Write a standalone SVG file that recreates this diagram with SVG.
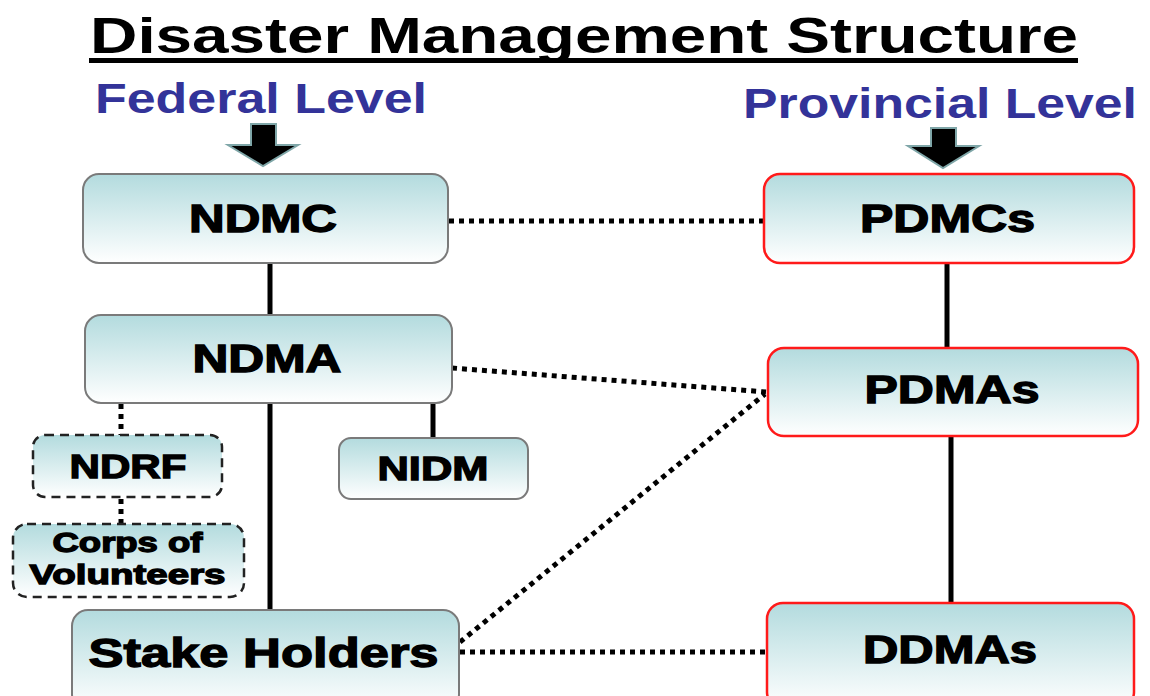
<svg xmlns="http://www.w3.org/2000/svg" width="1150" height="696" viewBox="0 0 1150 696">
<defs>
<linearGradient id="g" x1="0" y1="0" x2="0" y2="1">
<stop offset="0" stop-color="#b3dbde"/>
<stop offset="1" stop-color="#ffffff"/>
</linearGradient>
<style>
.box{fill:url(#g);stroke:#7a7a7a;stroke-width:2}
.red{fill:url(#g);stroke:#ff1a1a;stroke-width:2.5}
.dash{fill:url(#g);stroke:#222;stroke-width:2.5;stroke-dasharray:9 6}
.lbl{font-family:"Liberation Sans",Arial,sans-serif;font-weight:bold;fill:#000;stroke:#000;stroke-width:1.3;text-anchor:middle}
.lvl{font-family:"Liberation Sans",Arial,sans-serif;font-weight:bold;fill:#333399;font-size:43px}
.solid{stroke:#000;stroke-width:5;fill:none}
.dot{stroke:#000;stroke-width:5;stroke-dasharray:5 5;fill:none}
.arrow{fill:#000;stroke:#7fa6a8;stroke-width:2}
</style>
</defs>
<rect width="1150" height="696" fill="#fff"/>
<text x="90" y="53" font-family="'Liberation Sans',Arial,sans-serif" font-weight="bold" font-size="50" textLength="988" lengthAdjust="spacingAndGlyphs">Disaster Management Structure</text>
<rect x="89" y="58" width="989" height="5" fill="#000"/>
<text class="lvl" x="95" y="113" textLength="332" lengthAdjust="spacingAndGlyphs">Federal Level</text>
<text class="lvl" x="743" y="118" textLength="394" lengthAdjust="spacingAndGlyphs">Provincial Level</text>
<polygon class="arrow" points="251,124 276,124 276,145 298,145 263,166 228,145 251,145"/>
<polygon class="arrow" points="931,128 956,128 956,146 979,146 943,168 908,146 931,146"/>
<g id="connectors">
<line class="solid" x1="270" y1="263" x2="270" y2="315"/>
<line class="solid" x1="270" y1="403" x2="270" y2="610"/>
<line class="solid" x1="433" y1="403" x2="433" y2="438"/>
<line class="solid" x1="947" y1="263" x2="947" y2="348"/>
<line class="solid" x1="951" y1="436" x2="951" y2="603"/>
<line class="dot" x1="121" y1="404" x2="121" y2="435"/>
<line class="dot" x1="121" y1="499" x2="121" y2="524"/>
<line class="dot" x1="449" y1="221" x2="763" y2="221"/>
<line class="dot" x1="452" y1="368" x2="766" y2="392"/>
<line class="dot" x1="460" y1="642" x2="765" y2="394"/>
<line class="dot" x1="460" y1="652" x2="766" y2="652"/>
</g>
<g id="ndmc">
<rect class="box" x="83" y="174" width="365" height="89" rx="16"/>
<text class="lbl" x="263" y="232" font-size="38" textLength="148" lengthAdjust="spacingAndGlyphs">NDMC</text>
</g>
<g id="ndma">
<rect class="box" x="85" y="315" width="367" height="88" rx="16"/>
<text class="lbl" x="267" y="372" font-size="38" textLength="149" lengthAdjust="spacingAndGlyphs">NDMA</text>
</g>
<g id="ndrf">
<rect class="dash" x="33" y="435" width="189" height="62" rx="12"/>
<text class="lbl" x="128" y="478" font-size="34" textLength="117" lengthAdjust="spacingAndGlyphs">NDRF</text>
</g>
<g id="nidm">
<rect class="box" x="339" y="438" width="189" height="61" rx="12"/>
<text class="lbl" x="433" y="480" font-size="34" textLength="111" lengthAdjust="spacingAndGlyphs">NIDM</text>
</g>
<g id="corps">
<rect class="dash" x="13" y="524" width="231" height="73" rx="14"/>
<text class="lbl" x="127.5" y="552" font-size="27" textLength="150" lengthAdjust="spacingAndGlyphs">Corps of</text>
<text class="lbl" x="127.5" y="584" font-size="27" textLength="196" lengthAdjust="spacingAndGlyphs">Volunteers</text>
</g>
<g id="stake">
<rect class="box" x="72" y="610" width="387" height="100" rx="16"/>
<text class="lbl" x="263.5" y="667" font-size="40" textLength="350" lengthAdjust="spacingAndGlyphs">Stake Holders</text>
</g>
<g id="pdmcs">
<rect class="red" x="764" y="174" width="370" height="89" rx="16"/>
<text class="lbl" x="947.5" y="232" font-size="38" textLength="175" lengthAdjust="spacingAndGlyphs">PDMCs</text>
</g>
<g id="pdmas">
<rect class="red" x="768" y="348" width="370" height="88" rx="16"/>
<text class="lbl" x="952" y="403" font-size="38" textLength="175" lengthAdjust="spacingAndGlyphs">PDMAs</text>
</g>
<g id="ddmas">
<rect class="red" x="767" y="603" width="367" height="105" rx="16"/>
<text class="lbl" x="950" y="663" font-size="38" textLength="174" lengthAdjust="spacingAndGlyphs">DDMAs</text>
</g>
</svg>
